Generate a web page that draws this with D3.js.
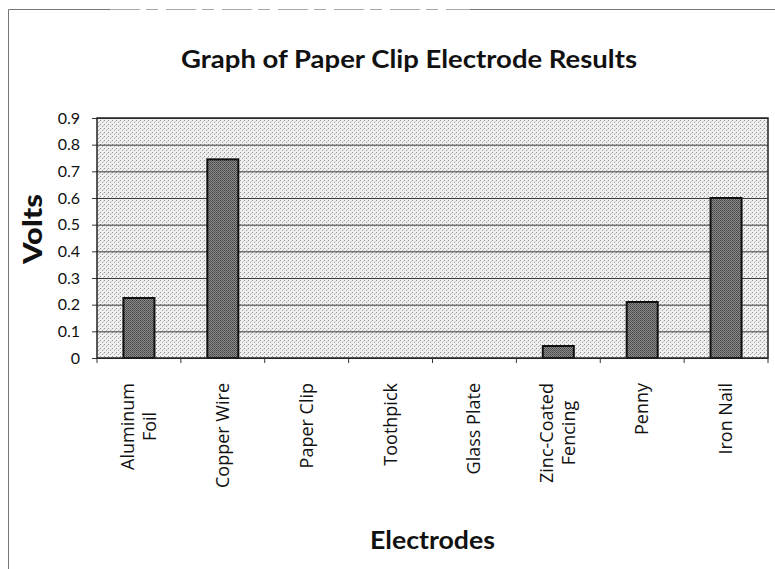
<!DOCTYPE html>
<html>
<head>
<meta charset="utf-8">
<script src="https://cdn.jsdelivr.net/npm/d3@7"></script>
<style>
  body { margin: 0; background: #fff; }
  text { font-family: Lato, "Open Sans", sans-serif; fill: #111; }
</style>
</head>
<body>
<div id="chart"></div>
<script>
// chart data
const electrodes = ["Aluminum\nFoil", "Copper Wire", "Paper Clip", "Toothpick", "Glass Plate", "Zinc-Coated\nFencing", "Penny", "Iron Nail"];
const volts = [0.225, 0.745, 0, 0, 0, 0.045, 0.21, 0.6];
const yTicks = [0, 0.1, 0.2, 0.3, 0.4, 0.5, 0.6, 0.7, 0.8, 0.9];

const width = 775, height = 569;
const plot = { left: 97, right: 768, top: 118, bottom: 358 };

let svg = d3.select('#chart')
    .append('svg')
    .attr('width', width)
    .attr('height', height);

// stippled fills, like the photocopied original
let defs = svg.append('defs');
let bgPat = defs.append('pattern')
    .attr('id', 'bg-dots')
    .attr('width', 4).attr('height', 4)
    .attr('patternUnits', 'userSpaceOnUse');
bgPat.append('rect').attr('width', 4).attr('height', 4).attr('fill', '#efefef');
bgPat.append('rect').attr('x', 0).attr('y', 0).attr('width', 1).attr('height', 1).attr('fill', '#8f8f8f');
bgPat.append('rect').attr('x', 2).attr('y', 2).attr('width', 1).attr('height', 1).attr('fill', '#a8a8a8');
bgPat.append('rect').attr('x', 3).attr('y', 1).attr('width', 1).attr('height', 1).attr('fill', '#c8c8c8');

let barPat = defs.append('pattern')
    .attr('id', 'bar-dots')
    .attr('width', 2).attr('height', 2)
    .attr('patternUnits', 'userSpaceOnUse');
barPat.append('rect').attr('width', 2).attr('height', 2).attr('fill', '#8c8c8c');
barPat.append('rect').attr('x', 0).attr('y', 0).attr('width', 1).attr('height', 1).attr('fill', '#444');
barPat.append('rect').attr('x', 1).attr('y', 1).attr('width', 1).attr('height', 1).attr('fill', '#555');

// outer chart frame (only top and left survived the scan)
svg.append('path')
    .attr('d', `M8.5,${height} L8.5,9.5 L110,9.5 M470,9.5 L${width},9.5`)
    .attr('fill', 'none')
    .attr('stroke', '#777')
    .attr('stroke-width', 1);
svg.append('line')
    .attr('x1', 110).attr('x2', 470)
    .attr('y1', 9.5).attr('y2', 9.5)
    .attr('stroke', '#aaa')
    .attr('stroke-dasharray', '30,6,12,8');

//Creating scales
let xScale = d3.scaleBand()
    .domain(electrodes)
    .range([plot.left, plot.right])
    .paddingInner(0.63)
    .paddingOuter(0.315);

let xBounds = d3.scaleLinear()
    .domain([0, electrodes.length])
    .range([plot.left, plot.right]);

let yScale = d3.scaleLinear()
    .domain([0, 0.9])
    .range([plot.bottom, plot.top]);

// plot background
svg.append('rect')
    .attr('x', plot.left)
    .attr('y', plot.top)
    .attr('width', plot.right - plot.left)
    .attr('height', plot.bottom - plot.top)
    .attr('fill', 'url(#bg-dots)');

// gridlines
svg.append('g')
    .attr('id', 'grid')
    .attr('transform', `translate(${plot.left},0)`)
    .call(d3.axisLeft(yScale).tickValues(yTicks).tickSize(-(plot.right - plot.left)).tickFormat(''))
    .call(g => g.select('.domain').remove())
    .call(g => g.selectAll('line').attr('stroke', '#3a3a3a').attr('stroke-width', 1));

// y axis with labels
svg.append('g')
    .attr('id', 'yaxis')
    .attr('transform', `translate(${plot.left},0)`)
    .call(d3.axisLeft(yScale).tickValues(yTicks).tickSize(5).tickPadding(12).tickFormat(d => d === 0 ? '0' : d3.format('.1f')(d)))
    .call(g => g.select('.domain').remove())
    .call(g => g.selectAll('line').attr('stroke', '#333'))
    .call(g => g.selectAll('text').attr('font-size', '16px').attr('fill', '#111').style('font-family', 'Lato, sans-serif'));

// bars
svg.append('g')
    .attr('id', 'bars')
    .selectAll('rect')
    .data(electrodes)
    .join('rect')
    .attr('x', d => xScale(d))
    .attr('y', (d, i) => yScale(volts[i]))
    .attr('width', xScale.bandwidth())
    .attr('height', (d, i) => yScale(0) - yScale(volts[i]))
    .attr('fill', 'url(#bar-dots)')
    .attr('stroke', '#111')
    .attr('stroke-width', (d, i) => volts[i] > 0 ? 2 : 0);

// plot area border
svg.append('rect')
    .attr('x', plot.left)
    .attr('y', plot.top)
    .attr('width', plot.right - plot.left)
    .attr('height', plot.bottom - plot.top)
    .attr('fill', 'none')
    .attr('stroke', '#222')
    .attr('stroke-width', 1.5);

// x axis tick marks at category boundaries
svg.append('g')
    .attr('id', 'xticks')
    .selectAll('line')
    .data(d3.range(electrodes.length + 1))
    .join('line')
    .attr('x1', d => xBounds(d))
    .attr('x2', d => xBounds(d))
    .attr('y1', plot.bottom)
    .attr('y2', plot.bottom + 5)
    .attr('stroke', '#333');

// category labels, rotated, lines centred on the longest line
let labelTop = 383;
let labels = svg.append('g').attr('id', 'xlabels');
electrodes.forEach((name, i) => {
    let lines = name.split('\n');
    let cx = xScale(name) + xScale.bandwidth() / 2;
    let lineH = 22;
    let t = labels.append('text')
        .attr('font-size', '18px')
        .style('font-family', '"Open Sans", sans-serif')
        .attr('text-anchor', 'middle');
    lines.forEach((ln, j) => {
        t.append('tspan')
            .attr('x', 0)
            .attr('dy', j === 0 ? 0 : lineH)
            .text(ln);
    });
    let maxLen = d3.max(t.selectAll('tspan').nodes(), n => n.getComputedTextLength());
    let blockShift = (lines.length - 1) * lineH / 2;
    t.attr('transform', `translate(${cx + 6 - blockShift},${labelTop + maxLen / 2}) rotate(-90)`);
});

// titles
svg.append('text')
    .attr('x', 409)
    .attr('y', 68)
    .attr('text-anchor', 'middle')
    .attr('font-size', '25px')
    .attr('font-weight', 'bold')
    .attr('textLength', 456)
    .attr('lengthAdjust', 'spacingAndGlyphs')
    .text('Graph of Paper Clip Electrode Results');

svg.append('text')
    .attr('transform', `translate(42,229) rotate(-90)`)
    .attr('text-anchor', 'middle')
    .attr('font-size', '26px')
    .attr('font-weight', 900)
    .attr('textLength', 70)
    .attr('lengthAdjust', 'spacingAndGlyphs')
    .text('Volts');

svg.append('text')
    .attr('x', (plot.left + plot.right) / 2)
    .attr('y', 549)
    .attr('text-anchor', 'middle')
    .attr('font-size', '25px')
    .attr('font-weight', 'bold')
    .attr('textLength', 125)
    .attr('lengthAdjust', 'spacingAndGlyphs')
    .text('Electrodes');
</script>
</body>
</html>
